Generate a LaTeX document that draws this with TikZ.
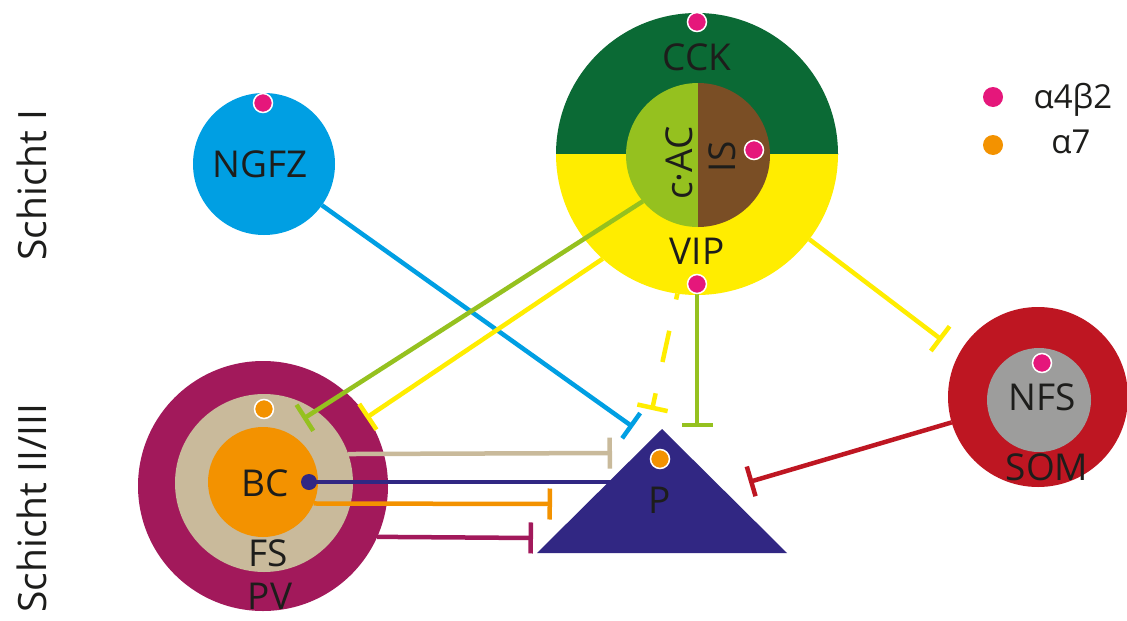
\documentclass[tikz,border=0pt]{standalone}
\usepackage{fontspec}
\setmainfont{Open Sans}
\usetikzlibrary{arrows.meta}
\definecolor{pinkd}{HTML}{E5177B}
\definecolor{orangec}{HTML}{F39200}
\definecolor{dgreen}{HTML}{0B6A35}
\definecolor{vyellow}{HTML}{FFED00}
\definecolor{lgreen}{HTML}{95C11F}
\definecolor{brownc}{HTML}{7A4E25}
\definecolor{ngblue}{HTML}{009FE3}
\definecolor{pvpurple}{HTML}{A2195B}
\definecolor{beige}{HTML}{C9BA9B}
\definecolor{somred}{HTML}{BE1622}
\definecolor{nfsgray}{HTML}{9D9D9C}
\definecolor{pblue}{HTML}{312783}
\definecolor{txt}{HTML}{1D1D1B}
\begin{document}
\begin{tikzpicture}[x=1pt,y=-1pt,
 disk/.style={circle,inner sep=0pt,outer sep=0pt,minimum size=#1},
 lab/.style={text=txt,inner sep=0pt,font=\fontsize{37}{40}\selectfont},
 side/.style={text=txt,inner sep=0pt,font=\fontsize{39}{42}\selectfont,rotate=90},
 leg/.style={text=txt,inner sep=0pt,font=\fontsize{33}{36}\selectfont,anchor=base},
 inh/.style={line width=4.5pt,-{Bar[width=31pt]}},
 rdot/.style={circle,inner sep=0pt,outer sep=0pt,minimum size=19pt,draw=white,line width=1.5pt,fill=#1},
 legdot/.style={circle,inner sep=0pt,outer sep=0pt,minimum size=20pt,fill=#1}]
\useasboundingbox[fill=white] (0,0) rectangle (1127,621);

% VIP / CCK big circle
\node[disk=282pt] (vip) at (697,154) {};
\begin{scope}\clip (540,0) rectangle (860,154); \fill[dgreen] (vip.center) circle[radius=141]; \end{scope}
\begin{scope}\clip (540,154) rectangle (860,300); \fill[vyellow] (vip.center) circle[radius=141]; \end{scope}
\node[disk=144pt] (cac) at (698,155) {};
\begin{scope}\clip (600,70) rectangle (698,240); \fill[lgreen] (cac.center) circle[radius=72]; \end{scope}
\begin{scope}\clip (698,70) rectangle (800,240); \fill[brownc] (cac.center) circle[radius=72]; \end{scope}

% other cells
\node[disk=142pt,fill=ngblue] (ngfz) at (264,164) {};
\node[disk=250pt,fill=pvpurple] (pv) at (263,486) {};
\node[disk=178pt,fill=beige] (fs) at (264,483) {};
\node[disk=110pt,fill=orangec] (bc) at (263,482) {};
\node[disk=180pt,fill=somred] (som) at (1038,397) {};
\node[disk=104pt,fill=nfsgray] (nfs) at (1039,400) {};

% connector end points
\coordinate (vipdot) at (697,284);
\coordinate (tNG) at (633,427);
\coordinate (tG1) at (303,419);
\coordinate (tG2) at (697,427);
\coordinate (tY1) at (366,418);
\coordinate (tYd) at (652,410);
\coordinate (tYS) at (942,340);
\coordinate (tR) at (749,482);
\coordinate (tB) at (612,453);
\coordinate (bcdot) at (309,482);
\coordinate (pin) at (640,482);
\coordinate (tO) at (552,504);
\coordinate (tP) at (533,538);

% connectors
\draw[inh,ngblue] (ngfz) -- (tNG);
\draw[inh,lgreen] (cac.220) -- (tG1);
\draw[inh,lgreen] (vipdot) -- (tG2);
\draw[inh,vyellow] (vip.228) -- (tY1);
\draw[inh,vyellow,dash pattern=on 32pt off 32pt,dash phase=26pt] (vip.262) -- (tYd);
\draw[inh,vyellow] (vip) -- (tYS);
\draw[inh,somred] (som) -- (tR);
\draw[inh,beige] (fs.19.7) -- (tB);
\draw[line width=4.5pt,pblue] (bcdot) -- (pin);
\draw[inh,orangec] (bc.-23.6) -- (tO);
\draw[inh,pvpurple] (pv.-24.7) -- (tP);

% pyramidal cell
\fill[pblue] (537,553) -- (662,429) -- (787,553) -- cycle;
\coordinate (pcell) at (660,500);
\node[circle,fill=pblue,inner sep=0pt,minimum size=16pt] (bcd) at (bcdot) {};

% receptor dots
\node[rdot=pinkd] (d1) at (697,22) {};
\node[rdot=pinkd] (d2) at (vipdot) {};
\node[rdot=pinkd] (d3) at (754,150) {};
\node[rdot=pinkd] (d4) at (263,103) {};
\node[rdot=pinkd] (d5) at (1042,363) {};
\node[rdot=orangec] (d6) at (264,409) {};
\node[rdot=orangec] (d7) at (660,459) {};

% labels
\node[lab] (lcck) at (697,57) {CCK};
\node[lab] (lvip) at (697,251) {VIP};
\node[lab,rotate=90] (lcac) at (679,163) {c·AC};
\node[lab,rotate=90] (lis) at (722,157) {IS};
\node[lab] (lngfz) at (260,164) {NGFZ};
\node[lab] (lbc) at (265,483) {BC};
\node[lab] (lfs) at (268,553) {FS};
\node[lab] (lpv) at (270,596) {PV};
\node[lab] (lnfs) at (1042,397) {NFS};
\node[lab] (lsom) at (1047,467) {SOM};
\node[lab] (lp) at (pcell) {P};
\node[side] (s1) at (32,185) {Schicht I};
\node[side] (s2) at (32,508) {Schicht II/III};

% legend
\node[legdot=pinkd] (lg1) at (993,97) {};
\node[legdot=orangec] (lg2) at (993,145) {};
\node[leg] (lt1) at (1073,108) {α4β2};
\node[leg] (lt2) at (1071,153) {α7};
\end{tikzpicture}
\end{document}
